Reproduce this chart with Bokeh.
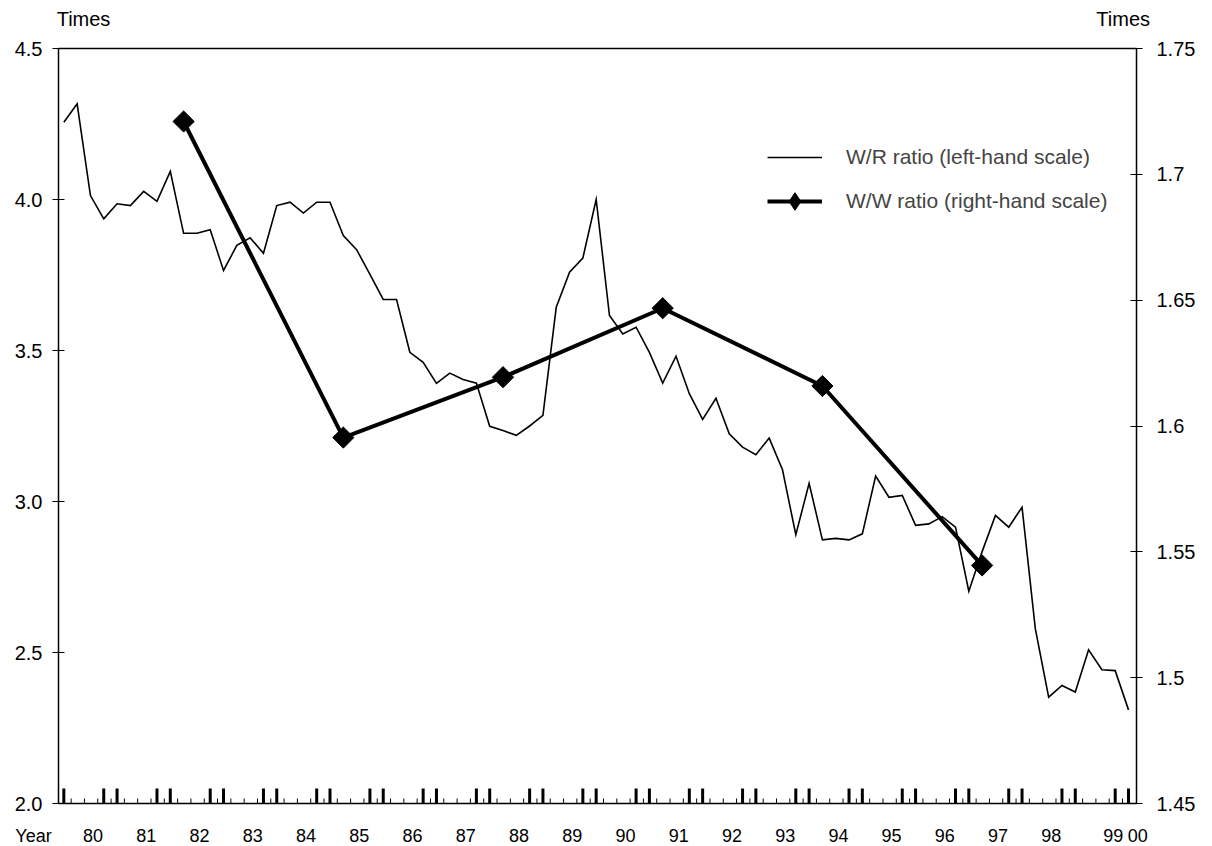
import numpy as np
from bokeh.plotting import figure
from bokeh.models import (Range1d, LinearAxis, FixedTicker, CustomJSTickFormatter,
                          PrintfTickFormatter, Legend, LegendItem)
from bokeh.embed import file_html
from bokeh.resources import INLINE

# ---------------- data ----------------
# x = quarter index (0 = 1980 Q1)
wr_quarter = list(range(81))
wr_ratio = [4.256, 4.317, 4.013, 3.936, 3.986, 3.980, 4.027, 3.994, 4.093, 3.888,
            3.888, 3.900, 3.765, 3.848, 3.873, 3.822, 3.980, 3.991, 3.955, 3.991,
            3.991, 3.881, 3.834, 3.752, 3.669, 3.669, 3.494, 3.461, 3.391, 3.425,
            3.404, 3.392, 3.249, 3.235, 3.219, 3.250, 3.285, 3.643, 3.759, 3.806,
            4.000, 3.616, 3.555, 3.577, 3.494, 3.392, 3.481, 3.357, 3.272, 3.342,
            3.224, 3.180, 3.155, 3.210, 3.105, 2.890, 3.060, 2.873, 2.878, 2.873,
            2.893, 3.084, 3.014, 3.020, 2.921, 2.926, 2.950, 2.915, 2.703, 2.834,
            2.954, 2.915, 2.981, 2.578, 2.352, 2.391, 2.369, 2.509, 2.443, 2.440,
            2.310]

ww_quarter = [9, 21, 33, 45, 57, 69]
ww_ratio = [1.721, 1.5954, 1.6194, 1.6468, 1.6159, 1.5446]

year_labels = ["80", "81", "82", "83", "84", "85", "86", "87", "88", "89",
               "90", "91", "92", "93", "94", "95", "96", "97", "98", "99", "00"]
year_label_pos = [2.2, 6.2, 10.2, 14.2, 18.2, 22.2, 26.2, 30.2, 34.2, 38.2,
                  42.2, 46.2, 50.2, 54.2, 58.2, 62.2, 66.2, 70.2, 74.2, 78.85, 80.7]
x_title = ["Year"]
x_title_pos = [-2.28]
unit_labels = ["Times", "Times"]
unit_label_pos = [1.48, 79.6]
tall_tick_pos = [q for q in range(81) if q % 4 in (0, 3)]
small_tick_pos = [q + 0.55 for q in range(80)]
left_ticks = [2.0, 2.5, 3.0, 3.5, 4.0, 4.5]
right_ticks = [1.45, 1.5, 1.55, 1.6, 1.65, 1.7, 1.75]

# ---------------- layout (pixels) ----------------
W, H = 1212, 846
LEFT, RIGHT, TOP, BOTTOM = 58, 1136, 48, 803
Q_LO, Q_HI = -0.4, 80.6            # quarter index at the left / right edge of the box
L_LO, L_HI = left_ticks[0], left_ticks[-1]
R_LO, R_HI = right_ticks[0], right_ticks[-1]
ppx = (RIGHT - LEFT) / (Q_HI - Q_LO)
ppy_l = (BOTTOM - TOP) / (L_HI - L_LO)
ppy_r = (BOTTOM - TOP) / (R_HI - R_LO)

FONT = "Liberation Sans"
FS = "20px"
XFS = "18px"

LOOKUP = """
    for (let i = 0; i < pos.length; i++) {
        if (Math.abs(pos[i] - tick) < 1e-6) { return labels[i]; }
    }
    return "";"""


def label_axis(positions, labels, standoff, font_size, **kw):
    ax = LinearAxis(ticker=FixedTicker(ticks=positions),
                    formatter=CustomJSTickFormatter(args=dict(pos=positions, labels=labels),
                                                    code=LOOKUP), **kw)
    ax.axis_line_color = None
    ax.major_tick_line_color = None
    ax.minor_tick_line_color = None
    ax.major_tick_in = 0
    ax.major_tick_out = 0
    ax.major_label_standoff = standoff
    ax.major_label_text_font = FONT
    ax.major_label_text_font_size = font_size
    ax.major_label_text_color = "black"
    return ax


p = figure(width=W, height=H, min_border=0,
           x_range=Range1d(Q_LO - LEFT / ppx, Q_HI + (W - RIGHT) / ppx),
           y_range=Range1d(L_LO - (H - BOTTOM) / ppy_l, L_HI + TOP / ppy_l),
           x_axis_type=None, output_backend="svg", toolbar_location=None)
p.extra_y_ranges = {"right": Range1d(R_LO - (H - BOTTOM) / ppy_r, R_HI + TOP / ppy_r)}
p.grid.visible = False
p.outline_line_color = None
p.background_fill_color = "white"
p.border_fill_color = "white"

# left axis
ya = p.yaxis[0]
ya.fixed_location = Q_LO
ya.bounds = (L_LO, L_HI)
ya.ticker = FixedTicker(ticks=left_ticks)
ya.formatter = PrintfTickFormatter(format="%.1f")
ya.major_tick_in = 6
ya.major_tick_out = 6
ya.minor_tick_line_color = None
ya.major_label_standoff = 10
ya.major_label_text_font = FONT
ya.major_label_text_font_size = FS
ya.major_label_text_color = "black"
ya.axis_line_width = 1.5
ya.axis_line_color = "black"

# right axis
ra = LinearAxis(y_range_name="right", fixed_location=Q_HI, bounds=(R_LO, R_HI),
                ticker=FixedTicker(ticks=right_ticks),
                formatter=CustomJSTickFormatter(code="""
                    let s = tick.toFixed(2);
                    if (s.endsWith("0")) { s = s.slice(0, -1); }
                    return s;"""))
ra.major_tick_in = 6
ra.major_tick_out = 6
ra.minor_tick_line_color = None
ra.major_label_standoff = 14
ra.major_label_text_font = FONT
ra.major_label_text_font_size = FS
ra.major_label_text_color = "black"
ra.axis_line_width = 1.5
p.add_layout(ra, "right")

# bottom edge of the box
ba = LinearAxis(ticker=FixedTicker(ticks=[]), fixed_location=L_LO, bounds=(Q_LO, Q_HI))
ba.axis_line_width = 1.5
ba.major_tick_line_color = None
ba.minor_tick_line_color = None
p.add_layout(ba, "below")

# bottom labels ("Year", 80 ... 00)
p.add_layout(label_axis(x_title_pos + year_label_pos, x_title + year_labels, 22, XFS,
                        fixed_location=L_LO), "below")

# top edge of the box with the unit captions
ta = label_axis(unit_label_pos, unit_labels, 19, FS, fixed_location=L_HI, bounds=(Q_LO, Q_HI))
ta.axis_line_color = "black"
ta.axis_line_width = 1.5
p.add_layout(ta, "above")

# tick marks standing on the time axis
tall_len = 15 / ppy_l
small_len = 5 / ppy_l
p.segment(x0=tall_tick_pos, y0=[L_LO] * len(tall_tick_pos),
          x1=tall_tick_pos, y1=[L_LO + tall_len] * len(tall_tick_pos),
          line_width=3, line_color="black", line_cap="butt")
p.segment(x0=small_tick_pos, y0=[L_LO] * len(small_tick_pos),
          x1=small_tick_pos, y1=[L_LO + small_len] * len(small_tick_pos),
          line_width=1, line_color="black", line_cap="butt")

# series
wr = p.line(wr_quarter, wr_ratio, line_color="black", line_width=1.6, line_join="miter")
ww = p.line(ww_quarter, ww_ratio, y_range_name="right", line_color="black", line_width=4)
# diamond used for the legend swatch (sits hidden under the first plotted marker)
ww_key = p.scatter(ww_quarter[:1], ww_ratio[:1], y_range_name="right", marker="diamond",
                   size=12, color="black")
wwm = p.scatter(ww_quarter, ww_ratio, y_range_name="right", marker="square", angle=np.pi / 4,
                size=15, color="black")

legend = Legend(items=[LegendItem(label="W/R ratio (left-hand scale)", renderers=[wr]),
                       LegendItem(label="W/W ratio (right-hand scale)", renderers=[ww, ww_key])],
                location=(767, H - 135 - 88), padding=0, margin=0, spacing=0,
                glyph_width=55, glyph_height=44, label_height=44, label_standoff=24,
                label_text_font=FONT, label_text_font_size="21px",
                border_line_color=None, background_fill_alpha=0)
p.add_layout(legend)

open("out.html", "w").write(file_html(p, INLINE))
